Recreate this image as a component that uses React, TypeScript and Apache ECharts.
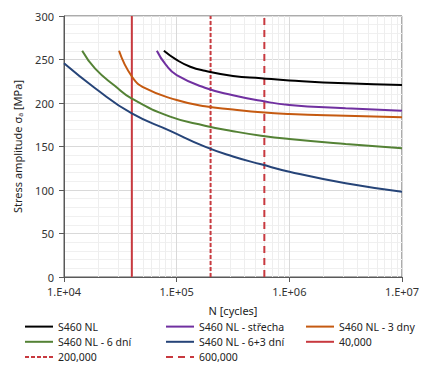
import React, { useEffect, useRef } from "react";
import * as echarts from "echarts";

const nBlack = [77000, 100000, 132000, 178000, 316000, 562000, 1000000, 3160000, 10000000];
const sBlack = [260, 249.5, 241.7, 237, 231, 228.4, 226, 222.6, 220.7];
const nPurple = [66700, 80000, 100000, 178000, 316000, 562000, 1000000, 3160000, 10000000];
const sPurple = [260, 244, 232, 217.6, 209, 202.5, 197.7, 194, 191];
const nOrange = [30800, 40000, 52500, 100000, 178000, 316000, 562000, 1000000, 3160000, 10000000];
const sOrange = [260, 230.5, 217, 203.5, 196.2, 192.5, 189.3, 187.4, 185.4, 183.7];
const nGreen = [14500, 18900, 28400, 40000, 87500, 178000, 316000, 562000, 1000000, 3160000, 10000000];
const sGreen = [260, 239.5, 219.5, 205, 184.3, 173.9, 167.6, 162.4, 158.6, 152.9, 148];
const nBlue = [10000, 18900, 40000, 87500, 178000, 316000, 562000, 1000000, 3160000, 10000000];
const sBlue = [245.6, 217, 188, 168, 149.8, 138.5, 129.5, 121, 107.7, 98];

const limits = [40000, 200000, 600000];
const limitNames = ["40,000", "200,000", "600,000"];
const minorX = [
  20000, 30000, 40000, 50000, 60000, 70000, 80000, 90000,
  200000, 300000, 400000, 500000, 600000, 700000, 800000, 900000,
  2000000, 3000000, 4000000, 5000000, 6000000, 7000000, 8000000, 9000000,
];

const FONT = "Noto Sans";

function pairs(n: number[], s: number[]) {
  return n.map((v, i) => [v, s[i]]);
}

export default function App() {
  const ref = useRef<HTMLDivElement>(null);
  useEffect(() => {
    document.body.style.margin = "0";
    const chart = echarts.init(ref.current!, null, { renderer: "svg" });
    const curve = (name: string, n: number[], s: number[], color: string) => ({
      name,
      type: "line",
      data: pairs(n, s),
      smooth: 0.5,
      symbol: "none",
      z: 3,
      lineStyle: { color, width: 2 },
      itemStyle: { color },
    });
    const vline = (i: number, type: any) => ({
      name: limitNames[i],
      type: "line",
      data: [[limits[i], 0], [limits[i], 300]],
      symbol: "none",
      z: 2,
      lineStyle: { color: "#C8393F", width: 2, type },
      itemStyle: { color: "#C8393F" },
    });
    const legendBase = {
      orient: "vertical",
      top: 321,
      itemWidth: 28,
      itemHeight: 14,
      itemGap: 4,
      padding: 0,
      itemStyle: { opacity: 0 },
      textStyle: { fontFamily: FONT, fontSize: 10.5, color: "#222" },
      selectedMode: false,
    };
    chart.setOption({
      animation: false,
      textStyle: { fontFamily: FONT },
      grid: {
        left: 64,
        right: 39,
        top: 16,
        bottom: 101,
        show: true,
        borderColor: "#595959",
        borderWidth: 1,
      },
      xAxis: {
        type: "log",
        logBase: 10,
        min: 10000,
        max: 10000000,
        name: "N [cycles]",
        nameLocation: "middle",
        nameGap: 28,
        nameTextStyle: { fontFamily: FONT, fontSize: 11, color: "#222" },
        axisLine: { show: true, lineStyle: { color: "#595959", width: 1 } },
        axisTick: { show: true, length: 5, lineStyle: { color: "#595959" } },
        axisLabel: {
          margin: 9,
          fontFamily: FONT,
          fontSize: 11,
          color: "#333",
          formatter: (v: number) => "1.E+0" + Math.round(Math.log10(v)),
        },
        splitLine: { show: true, lineStyle: { color: "#d9d9d9", width: 1 } },
      },
      yAxis: {
        type: "value",
        min: 0,
        max: 300,
        interval: 50,
        name: "Stress amplitude σ{sub|a} [MPa]",
        nameLocation: "middle",
        nameGap: 40,
        nameTextStyle: {
          fontFamily: FONT,
          fontSize: 11,
          color: "#222",
          rich: { sub: { fontSize: 7, fontFamily: FONT, verticalAlign: "bottom", padding: [6, 0, 0, 0] } },
        },
        axisLine: { show: true, lineStyle: { color: "#595959", width: 1 } },
        axisTick: { show: true, length: 5, lineStyle: { color: "#595959" } },
        axisLabel: { margin: 10, fontFamily: FONT, fontSize: 11, color: "#333" },
        splitLine: { show: true, lineStyle: { color: "#d9d9d9", width: 1 } },
        minorTick: { show: false, splitNumber: 5 },
        minorSplitLine: { show: true, lineStyle: { color: "#f0f0f0", width: 1 } },
      },
      legend: [
        { ...legendBase, left: 24, data: ["S460 NL", "S460 NL - 6 dní", "200,000"] },
        { ...legendBase, left: 165, data: ["S460 NL - střecha", "S460 NL - 6+3 dní", "600,000"] },
        { ...legendBase, left: 305, data: ["S460 NL - 3 dny", "40,000"] },
      ],
      series: [
        {
          name: "_minor",
          type: "line",
          data: [],
          z: 0,
          markLine: {
            silent: true,
            z: 0,
            symbol: "none",
            label: { show: false },
            lineStyle: { color: "#eeeeee", width: 1, type: "solid" },
            data: minorX.map((v) => ({ xAxis: v })),
          },
        },
        curve("S460 NL", nBlack, sBlack, "#000000"),
        curve("S460 NL - střecha", nPurple, sPurple, "#7030A0"),
        curve("S460 NL - 3 dny", nOrange, sOrange, "#C55A11"),
        curve("S460 NL - 6 dní", nGreen, sGreen, "#548235"),
        curve("S460 NL - 6+3 dní", nBlue, sBlue, "#264478"),
        vline(0, "solid"),
        vline(1, [4, 2]),
        vline(2, [7, 5]),
      ],
    });
    return () => chart.dispose();
  }, []);
  return <div ref={ref} style={{ width: 441, height: 378 }} />;
}
